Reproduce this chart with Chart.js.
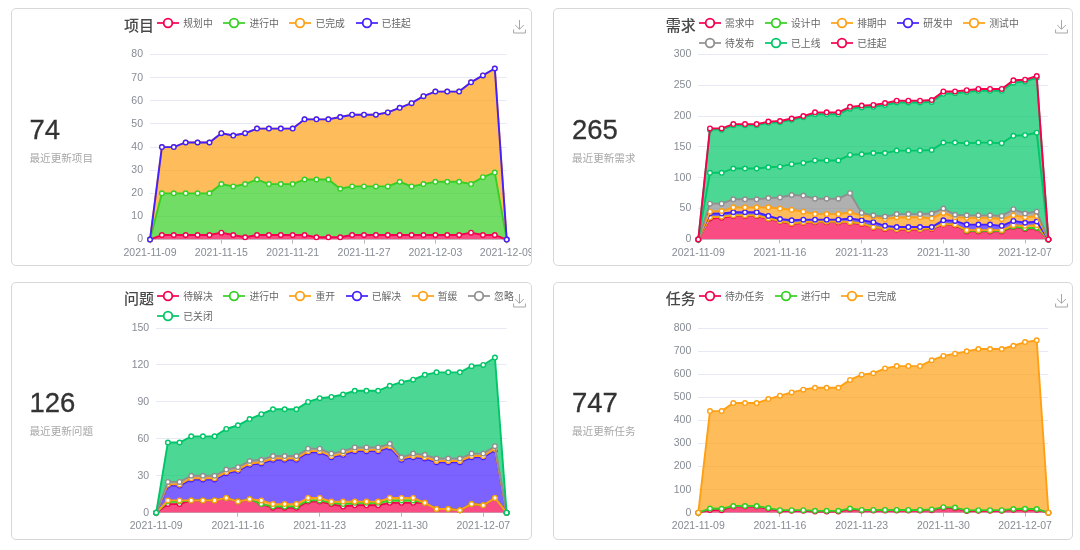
<!DOCTYPE html>
<html lang="zh">
<head>
<meta charset="utf-8">
<script src="https://cdn.jsdelivr.net/npm/chart.js@4/dist/chart.umd.js"></script>
<style>
html,body{margin:0;padding:0;background:#fff;width:1080px;height:550px;overflow:hidden}
.card{position:absolute;box-sizing:border-box;border:1px solid #d8d8d8;border-radius:5px;background:#fff;overflow:hidden}
.card canvas{position:absolute;left:-1px;top:-1px}
.t{position:absolute;white-space:nowrap;font-family:"Noto Sans CJK SC",sans-serif}
.title{font-size:15px;font-weight:500;color:#484848;line-height:20px}
.num{font-family:"Liberation Sans",Arial,sans-serif;font-size:27.5px;font-weight:400;color:#333;line-height:30px;-webkit-text-stroke:.3px #333}
.sub{font-size:10.6px;color:#a8a8a8;line-height:14px}
.legend{position:absolute;display:flex;flex-wrap:wrap;width:375px;font-family:"Noto Sans CJK SC",sans-serif;font-size:9.8px;color:#666}
.item{display:flex;align-items:center;height:20px;margin-right:10.7px;white-space:nowrap}
.item svg{margin-right:4px;display:block}
.dl{position:absolute}
</style>
</head>
<body>
<script>
const dates = ['2021-11-09','2021-11-10','2021-11-11','2021-11-12','2021-11-13','2021-11-14','2021-11-15','2021-11-16','2021-11-17','2021-11-18','2021-11-19','2021-11-20','2021-11-21','2021-11-22','2021-11-23','2021-11-24','2021-11-25','2021-11-26','2021-11-27','2021-11-28','2021-11-29','2021-11-30','2021-12-01','2021-12-02','2021-12-03','2021-12-04','2021-12-05','2021-12-06','2021-12-07','2021-12-08','2021-12-09'];

// 项目
const projPlanned = [0,2,2,2,2,2,3,2,1,2,2,2,2,2,1,1,1,2,2,2,2,2,2,2,2,2,2,3,2,2,0];
const projDoing   = [0,18,18,18,18,18,21,21,23,24,22,22,22,24,25,25,21,21,21,21,21,23,21,22,23,23,23,21,25,27,0];
const projDone    = [0,20,20,22,22,22,22,22,22,22,24,24,24,26,26,26,31,31,31,31,32,32,36,38,39,39,39,44,44,45,0];
const projHung    = [0,0,0,0,0,0,0,0,0,0,0,0,0,0,0,0,0,0,0,0,0,0,0,0,0,0,0,0,0,0,0];

// 需求
const reqOpen     = [0,34,35,38,38,38,33,29,25,27,28,28,28,27,25,19,17,16,16,16,17,24,23,13,13,13,13,20,17,18,0];
const reqDesign   = [0,2,2,1,1,1,1,1,1,1,1,1,1,1,1,1,1,1,1,1,1,1,1,1,1,1,1,1,1,1,0];
const reqSchedule = [0,0,0,0,0,0,0,0,0,0,0,0,0,0,0,0,0,0,0,0,0,0,0,1,1,1,1,2,4,4,0];
const reqDev      = [0,6,5,5,5,5,4,3,5,4,3,3,3,6,5,8,4,3,3,3,2,6,6,9,9,9,7,7,5,6,0];
const reqTest     = [0,3,4,8,8,8,14,17,17,13,9,9,9,10,8,9,11,16,16,16,14,12,6,11,11,11,11,9,9,9,0];
const reqRelease  = [0,13,12,13,13,13,15,18,24,26,25,25,25,31,4,2,4,5,5,5,8,7,4,4,4,4,5,10,6,7,0];
const reqOnline   = [0,50,50,50,50,50,50,50,50,53,62,62,62,62,95,101,103,103,103,103,103,107,117,117,118,118,118,119,127,128,0];
const reqUnlisted = [0,70,70,70,70,70,72,72,72,74,75,75,75,75,76,75,78,78,78,78,78,79,80,83,84,84,85,86,87,89,0];
const reqHung     = [0,2,2,2,2,2,2,2,2,2,3,3,3,3,3,3,3,3,3,3,3,4,3,3,3,3,3,4,3,3,0];

// 问题
const bugOpen     = [0,7,7,10,10,10,12,9,11,7,4,4,4,9,9,7,5,6,6,6,8,8,8,8,3,3,2,7,6,12,0];
const bugDoing    = [0,2,2,0,0,0,0,0,0,0,1,1,1,1,1,1,2,2,2,2,2,2,2,0,0,0,0,0,0,0,0];
const bugReopen   = [0,1,1,0,0,0,0,0,0,3,2,2,2,2,2,1,2,1,1,1,2,2,2,0,0,0,0,0,0,0,0];
const bugSolved   = [0,12,12,17,17,17,20,25,28,30,36,36,36,37,37,36,38,41,41,41,41,31,33,36,38,38,39,38,39,39,0];
const bugPaused   = [0,1,1,1,1,1,1,1,1,1,1,1,1,1,1,1,1,1,1,1,1,1,1,1,1,1,1,1,1,1,0];
const bugIgnored  = [0,2,2,2,2,2,2,2,2,2,2,2,2,2,2,2,2,2,2,2,2,1,2,2,2,2,2,2,2,2,0];
const bugClosed   = [0,32,32,32,32,32,33,34,34,37,38,38,38,38,41,46,46,46,46,46,47,61,60,65,70,70,70,71,72,72,0];

// 任务
const taskTodo    = [0,12,11,27,27,27,17,8,8,8,5,5,5,15,9,9,9,9,9,9,11,21,19,7,8,8,8,13,14,13,0];
const taskDoing   = [0,6,6,2,2,2,3,3,3,3,3,3,3,3,3,3,3,3,3,3,3,3,3,3,3,3,3,3,3,3,0];
const taskDone    = [0,422,423,446,446,446,472,496,510,522,533,533,533,557,586,592,613,623,623,623,646,655,667,689,698,698,698,707,722,731,0];

const RED='245,0,79', GREEN='54,207,36', ORANGE='255,160,20', BLUE='68,31,255', TEAL='1,198,104', GRAY='143,143,143';

const panels = [
 {title:'项目',num:'74',sub:'最近更新项目',card:[11,8,521,258],plot:[150,54.6,506.7,239.6],max:80,step:10,skip:6,
  titleAt:[124,15],numAt:[29.5,115],subAt:[29.5,151],legendAt:[157.3,13],dlAt:[512.8,19],
  series:[['规划中',projPlanned,RED],['进行中',projDoing,GREEN],['已完成',projDone,ORANGE],['已挂起',projHung,BLUE]]},
 {title:'需求',num:'265',sub:'最近更新需求',card:[553,8,520,258],plot:[698.3,54.4,1048.4,239.4],max:300,step:50,skip:7,
  titleAt:[665.8,15],numAt:[572,115],subAt:[572,151],legendAt:[699,13],dlAt:[1054.5,19],
  series:[['需求中',reqOpen,RED],['设计中',reqDesign,GREEN],['排期中',reqSchedule,ORANGE],['研发中',reqDev,BLUE],['测试中',reqTest,ORANGE],['待发布',reqRelease,GRAY],['已上线',reqOnline,TEAL],['',reqUnlisted,TEAL],['已挂起',reqHung,RED]]},
 {title:'问题',num:'126',sub:'最近更新问题',card:[11,282,521,258],plot:[156.2,328,506.6,512.7],max:150,step:30,skip:7,
  titleAt:[124,288],numAt:[29.5,388],subAt:[29.5,424],legendAt:[157.3,286],dlAt:[512.8,293],
  series:[['待解决',bugOpen,RED],['进行中',bugDoing,GREEN],['重开',bugReopen,ORANGE],['已解决',bugSolved,BLUE],['暂缓',bugPaused,ORANGE],['忽略',bugIgnored,GRAY],['已关闭',bugClosed,TEAL]]},
 {title:'任务',num:'747',sub:'最近更新任务',card:[553,282,520,258],plot:[698.3,328,1048.4,512.7],max:800,step:100,skip:7,
  titleAt:[665.8,288],numAt:[572,388],subAt:[572,424],legendAt:[699,286],dlAt:[1054.5,293],
  series:[['待办任务',taskTodo,RED],['进行中',taskDoing,GREEN],['已完成',taskDone,ORANGE]]}
];

function text(cls, s, x, y){
  const d=document.createElement('div'); d.className='t '+cls; d.textContent=s;
  d.style.left=x+'px'; d.style.top=y+'px'; document.body.appendChild(d);
}
const YW=40, XH=26;
panels.forEach(p=>{
  const [cx,cy,cw,ch]=p.card, [pl,pt,pr,pb]=p.plot;
  const card=document.createElement('div'); card.className='card';
  card.style.cssText=`left:${cx}px;top:${cy}px;width:${cw}px;height:${ch}px`;
  const cv=document.createElement('canvas');
  const W=Math.round(pr-cx+45), H=ch;
  cv.width=W; cv.height=H; cv.style.width=W+'px'; cv.style.height=H+'px';
  card.appendChild(cv); document.body.appendChild(card);

  text('title',p.title,p.titleAt[0],p.titleAt[1]);
  text('num',p.num,p.numAt[0],p.numAt[1]);
  text('sub',p.sub,p.subAt[0],p.subAt[1]);

  const lg=document.createElement('div'); lg.className='legend';
  lg.style.left=p.legendAt[0]+'px'; lg.style.top=p.legendAt[1]+'px';
  p.series.filter(s=>s[0]).forEach(s=>{
    const c='rgb('+s[2]+')';
    const it=document.createElement('div'); it.className='item';
    it.innerHTML=`<svg width="22" height="12" viewBox="0 0 22 12"><line x1="0" y1="6" x2="22" y2="6" stroke="${c}" stroke-width="1.7"/><circle cx="11" cy="6" r="4.3" fill="#fff" stroke="${c}" stroke-width="1.8"/></svg><span>${s[0]}</span>`;
    lg.appendChild(it);
  });
  document.body.appendChild(lg);

  const dl=document.createElementNS('http://www.w3.org/2000/svg','svg');
  dl.setAttribute('class','dl'); dl.setAttribute('width','13'); dl.setAttribute('height','15');
  dl.setAttribute('viewBox','0 0 13 15');
  dl.style.left=p.dlAt[0]+'px'; dl.style.top=p.dlAt[1]+'px';
  dl.innerHTML='<path d="M6.5 1V10M2.2 6L6.5 10.3L10.8 6M.6 10.5V14H12.4V10.5" fill="none" stroke="#a6a6a6" stroke-width="1"/>';
  document.body.appendChild(dl);

  // stack tops: running sum of the layers, so later series can draw above earlier ones
  const running = dates.map(()=>0);
  const n=p.series.length;
  const datasets=p.series.map((s,i)=>{
    const tops=s[1].map((v,j)=>(running[j]+=v));
    return {label:s[0],data:tops,order:n-i,fill:i===0?'origin':'-1',clip:false,
      borderColor:'rgb('+s[2]+')',backgroundColor:'rgba('+s[2]+',0.7)',borderWidth:1.9,
      pointRadius:2.3,pointBorderWidth:1.4,pointBackgroundColor:'#fff',pointBorderColor:'rgb('+s[2]+')',
      tension:0};
  });

  new Chart(cv,{type:'line',data:{labels:dates,datasets},options:{
    responsive:false,animation:false,events:[],
    layout:{padding:{left:pl-cx-YW,top:pt-cy,right:W-(pr-cx),bottom:H-(pb-cy)-XH}},
    plugins:{legend:{display:false},tooltip:{enabled:false},filler:{drawTime:'beforeDatasetsDraw'}},
    scales:{
      x:{type:'category',offset:false,
        afterBuildTicks:s=>{s.ticks=s.ticks.filter(t=>t.value%p.skip===0);},
        afterFit:s=>{s.height=XH;},
        border:{display:true,color:'#c6c8cc',width:1},
        grid:{display:true,drawOnChartArea:false,drawTicks:true,tickLength:4,tickColor:'#b5b8bd'},
        ticks:{autoSkip:false,maxRotation:0,minRotation:0,padding:3,color:'#868b94',font:{family:'"Liberation Sans",Arial,sans-serif',size:10.5}}},
      y:{min:0,max:p.max,
        afterFit:s=>{s.width=YW;},
        border:{display:false},
        grid:{color:'#e6e9f5',lineWidth:1,drawTicks:false},
        ticks:{stepSize:p.step,padding:7,color:'#868b94',font:{family:'"Liberation Sans",Arial,sans-serif',size:10.5}}}
    }}});
});
</script>
</body>
</html>
